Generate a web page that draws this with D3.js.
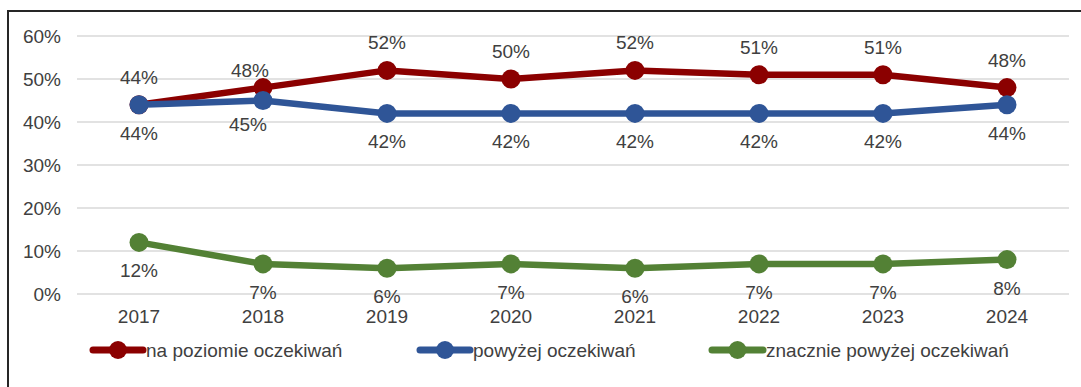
<!DOCTYPE html>
<html>
<head>
<meta charset="utf-8">
<script src="https://cdn.jsdelivr.net/npm/d3@7"></script>
<style>
  html, body { margin: 0; padding: 0; background: #fff; }
  svg { display: block; font-family: "Liberation Sans", Arial, sans-serif; }
</style>
</head>
<body>
<svg id="chart" width="1081" height="387"></svg>
<script>
// Years on the category axis
const years = ["2017", "2018", "2019", "2020", "2021", "2022", "2023", "2024"];
// Share of responses per year (percent)
const naPoziomie = [44, 48, 52, 50, 52, 51, 51, 48];
const powyzej = [44, 45, 42, 42, 42, 42, 42, 44];
const znaczniePowyzej = [12, 7, 6, 7, 6, 7, 7, 8];
// Value axis ticks (percent)
const yTicks = [0, 10, 20, 30, 40, 50, 60];

const series = [
  { name: "na poziomie oczekiwań", values: naPoziomie, color: "#8B0000", labelPos: "above" },
  { name: "powyżej oczekiwań", values: powyzej, color: "#2F5597", labelPos: "below" },
  { name: "znacznie powyżej oczekiwań", values: znaczniePowyzej, color: "#538135", labelPos: "below" }
];

// Hand-placed label nudges where the two upper series crowd each other
const labelNudge = {
  "na poziomie oczekiwań|2018": [-13, 10],
  "powyżej oczekiwań|2018": [-15, -5]
};

const svg = d3.select("#chart");
const textColor = "#404040";
const fontSize = 19;

// Outer frame (top and left edges visible)
svg.append("path")
  .attr("d", "M8,387 L8,11 L1081,11")
  .attr("fill", "none")
  .attr("stroke", "#262626")
  .attr("stroke-width", 2);

const x = d3.scaleBand().domain(years).range([77, 1069]);
const y = d3.scaleLinear().domain([0, 60]).range([294, 36]);
const cx = d => x(d) + x.bandwidth() / 2;

// Gridlines
svg.append("g")
  .selectAll("line")
  .data(yTicks)
  .join("line")
  .attr("x1", 77).attr("x2", 1069)
  .attr("y1", d => y(d)).attr("y2", d => y(d))
  .attr("stroke", "#d9d9d9")
  .attr("stroke-width", 1.3);

// Y axis labels
const yAxis = d3.axisLeft(y).tickValues(yTicks).tickFormat(d => d + "%").tickSize(0).tickPadding(0);
const gy = svg.append("g").attr("transform", "translate(61,0)").call(yAxis);
gy.select(".domain").remove();
gy.selectAll("text")
  .attr("fill", textColor)
  .attr("font-size", fontSize)
  .attr("font-family", "Liberation Sans, Arial, sans-serif");

// X axis labels
const xAxis = d3.axisBottom(x).tickSize(0).tickPadding(0);
const gx = svg.append("g").attr("transform", "translate(0,309)").call(xAxis);
gx.select(".domain").remove();
gx.selectAll("text")
  .attr("fill", textColor)
  .attr("font-size", fontSize)
  .attr("font-family", "Liberation Sans, Arial, sans-serif");

// Lines, markers and value labels
const line = d3.line().x((d, i) => cx(years[i])).y(d => y(d));

series.forEach(s => {
  const g = svg.append("g");
  g.append("path")
    .datum(s.values)
    .attr("d", line)
    .attr("fill", "none")
    .attr("stroke", s.color)
    .attr("stroke-width", 6.5)
    .attr("stroke-linejoin", "round")
    .attr("stroke-linecap", "round");
  g.selectAll("circle")
    .data(s.values)
    .join("circle")
    .attr("cx", (d, i) => cx(years[i]))
    .attr("cy", d => y(d))
    .attr("r", 9.5)
    .attr("fill", s.color);
});

series.forEach(s => {
  svg.append("g")
    .selectAll("text")
    .data(s.values)
    .join("text")
    .attr("x", (d, i) => cx(years[i]) + (labelNudge[s.name + "|" + years[i]] || [0, 0])[0])
    .attr("y", (d, i) => (s.labelPos === "above" ? y(d) - 21 : y(d) + 35) + (labelNudge[s.name + "|" + years[i]] || [0, 0])[1])
    .attr("text-anchor", "middle")
    .attr("fill", textColor)
    .attr("font-size", fontSize)
    .text(d => d + "%");
});

// Legend
const legendItems = [
  { s: series[0], x1: 93, x2: 143 },
  { s: series[1], x1: 420, x2: 470 },
  { s: series[2], x1: 712, x2: 763 }
];
const ly = 350;
legendItems.forEach(it => {
  const g = svg.append("g");
  g.append("line")
    .attr("x1", it.x1).attr("x2", it.x2)
    .attr("y1", ly).attr("y2", ly)
    .attr("stroke", it.s.color)
    .attr("stroke-width", 7)
    .attr("stroke-linecap", "round");
  g.append("circle")
    .attr("cx", (it.x1 + it.x2) / 2)
    .attr("cy", ly)
    .attr("r", 9)
    .attr("fill", it.s.color);
  g.append("text")
    .attr("x", it.x2 + 3)
    .attr("y", ly + 7)
    .attr("fill", textColor)
    .attr("font-size", fontSize)
    .text(it.s.name);
});
</script>
</body>
</html>
